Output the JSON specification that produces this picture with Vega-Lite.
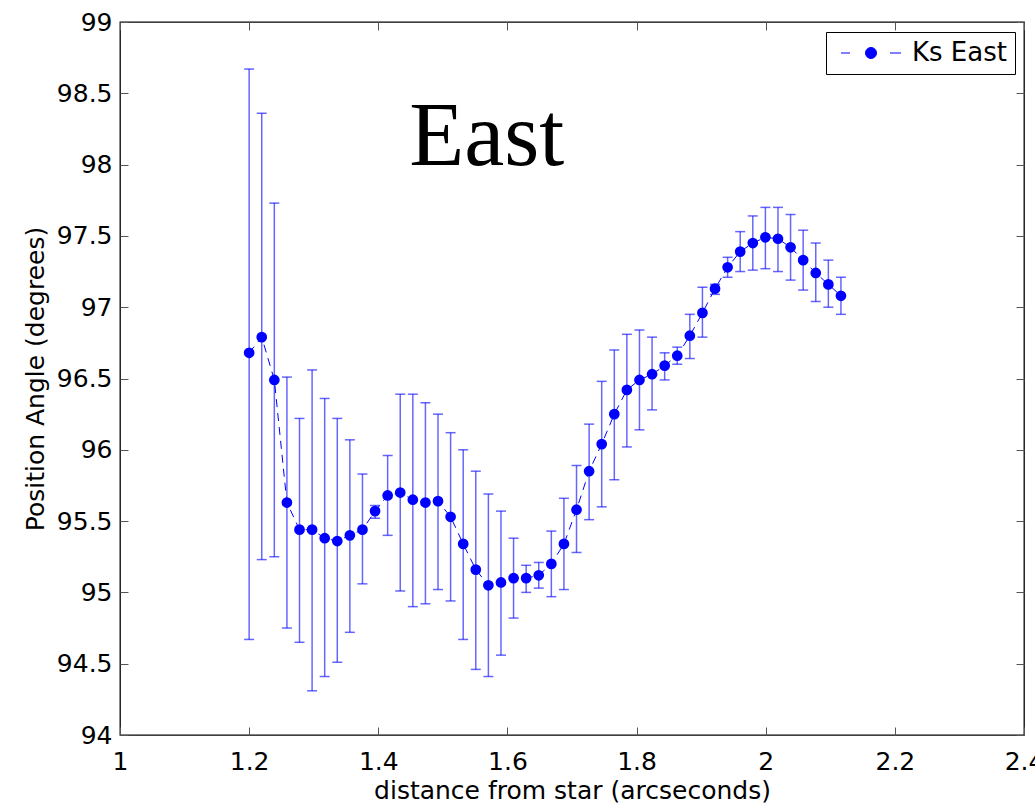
{
  "$schema": "https://vega.github.io/schema/vega-lite/v6.json",
  "width": 904,
  "height": 713,
  "autosize": "none",
  "padding": {"left": 120, "top": 22, "right": 11, "bottom": 70},
  "background": "white",
  "config": {
    "view": {"stroke": "#000", "strokeWidth": 1.3},
    "font": "DejaVu Sans"
  },
  "data": {
    "values": [
      {"d": 1.2000, "pa": 96.68, "lo": 94.67, "hi": 98.67},
      {"d": 1.2195, "pa": 96.79, "lo": 95.23, "hi": 98.36},
      {"d": 1.2390, "pa": 96.49, "lo": 95.25, "hi": 97.73},
      {"d": 1.2585, "pa": 95.63, "lo": 94.75, "hi": 96.51},
      {"d": 1.2780, "pa": 95.44, "lo": 94.65, "hi": 96.22},
      {"d": 1.2975, "pa": 95.44, "lo": 94.31, "hi": 96.56},
      {"d": 1.3170, "pa": 95.38, "lo": 94.41, "hi": 96.36},
      {"d": 1.3365, "pa": 95.36, "lo": 94.51, "hi": 96.22},
      {"d": 1.3560, "pa": 95.40, "lo": 94.72, "hi": 96.07},
      {"d": 1.3755, "pa": 95.44, "lo": 95.06, "hi": 95.83},
      {"d": 1.3950, "pa": 95.57, "lo": 95.52, "hi": 95.61},
      {"d": 1.4145, "pa": 95.68, "lo": 95.40, "hi": 95.96},
      {"d": 1.4340, "pa": 95.70, "lo": 95.01, "hi": 96.39},
      {"d": 1.4535, "pa": 95.65, "lo": 94.90, "hi": 96.39},
      {"d": 1.4730, "pa": 95.63, "lo": 94.92, "hi": 96.33},
      {"d": 1.4925, "pa": 95.64, "lo": 95.02, "hi": 96.25},
      {"d": 1.5120, "pa": 95.53, "lo": 94.94, "hi": 96.12},
      {"d": 1.5315, "pa": 95.34, "lo": 94.67, "hi": 96.00},
      {"d": 1.5510, "pa": 95.16, "lo": 94.46, "hi": 95.85},
      {"d": 1.5705, "pa": 95.05, "lo": 94.41, "hi": 95.69},
      {"d": 1.5900, "pa": 95.07, "lo": 94.56, "hi": 95.57},
      {"d": 1.6095, "pa": 95.10, "lo": 94.82, "hi": 95.38},
      {"d": 1.6290, "pa": 95.10, "lo": 95.00, "hi": 95.19},
      {"d": 1.6485, "pa": 95.12, "lo": 95.03, "hi": 95.21},
      {"d": 1.6680, "pa": 95.20, "lo": 94.97, "hi": 95.43},
      {"d": 1.6875, "pa": 95.34, "lo": 95.02, "hi": 95.66},
      {"d": 1.7070, "pa": 95.58, "lo": 95.28, "hi": 95.89},
      {"d": 1.7265, "pa": 95.85, "lo": 95.51, "hi": 96.18},
      {"d": 1.7460, "pa": 96.04, "lo": 95.60, "hi": 96.48},
      {"d": 1.7655, "pa": 96.25, "lo": 95.79, "hi": 96.70},
      {"d": 1.7850, "pa": 96.42, "lo": 96.02, "hi": 96.81},
      {"d": 1.8045, "pa": 96.49, "lo": 96.14, "hi": 96.84},
      {"d": 1.8240, "pa": 96.53, "lo": 96.28, "hi": 96.79},
      {"d": 1.8435, "pa": 96.59, "lo": 96.49, "hi": 96.68},
      {"d": 1.8630, "pa": 96.66, "lo": 96.60, "hi": 96.72},
      {"d": 1.8825, "pa": 96.80, "lo": 96.64, "hi": 96.95},
      {"d": 1.9020, "pa": 96.96, "lo": 96.79, "hi": 97.14},
      {"d": 1.9215, "pa": 97.13, "lo": 97.09, "hi": 97.16},
      {"d": 1.9410, "pa": 97.28, "lo": 97.21, "hi": 97.35},
      {"d": 1.9605, "pa": 97.39, "lo": 97.25, "hi": 97.53},
      {"d": 1.9800, "pa": 97.45, "lo": 97.26, "hi": 97.64},
      {"d": 1.9995, "pa": 97.49, "lo": 97.27, "hi": 97.70},
      {"d": 2.0190, "pa": 97.48, "lo": 97.25, "hi": 97.70},
      {"d": 2.0385, "pa": 97.42, "lo": 97.19, "hi": 97.65},
      {"d": 2.0580, "pa": 97.33, "lo": 97.12, "hi": 97.54},
      {"d": 2.0775, "pa": 97.24, "lo": 97.04, "hi": 97.45},
      {"d": 2.0970, "pa": 97.16, "lo": 97.00, "hi": 97.33},
      {"d": 2.1165, "pa": 97.08, "lo": 96.95, "hi": 97.21}
    ]
  },
  "resolve": {"axis": {"x": "independent", "y": "independent"}},
  "layer": [
    {
      "mark": {"type": "rule", "color": "#0000ff", "opacity": 0.6, "strokeWidth": 1.5},
      "encoding": {
        "x": {
          "field": "d", "type": "quantitative",
          "scale": {"domain": [1, 2.4], "nice": false, "zero": false},
          "axis": {
            "orient": "bottom",
            "values": [1, 1.2, 1.4, 1.6, 1.8, 2, 2.2, 2.4],
            "format": "~g",
            "domain": false, "grid": false,
            "tickSize": -8, "tickColor": "#555", "tickWidth": 1,
            "labelFlush": false, "labelOverlap": false,
            "labelFont": "DejaVu Sans", "labelFontSize": 25, "labelColor": "#000",
            "labelPadding": 22,
            "title": "distance from star (arcseconds)",
            "titleFont": "DejaVu Sans", "titleFontSize": 25, "titleFontWeight": "normal",
            "titleColor": "#000", "titlePadding": 4
          }
        },
        "y": {
          "field": "lo", "type": "quantitative",
          "scale": {"domain": [94, 99], "nice": false, "zero": false},
          "axis": {
            "orient": "left",
            "values": [94, 94.5, 95, 95.5, 96, 96.5, 97, 97.5, 98, 98.5, 99],
            "format": "~g",
            "domain": false, "grid": false,
            "tickSize": -8, "tickColor": "#555", "tickWidth": 1,
            "labelFlush": false, "labelOverlap": false,
            "labelFont": "DejaVu Sans", "labelFontSize": 25, "labelColor": "#000",
            "labelPadding": 16,
            "title": "Position Angle (degrees)",
            "titleFont": "DejaVu Sans", "titleFontSize": 25, "titleFontWeight": "normal",
            "titleColor": "#000", "titlePadding": 8
          }
        },
        "y2": {"field": "hi"}
      }
    },
    {
      "mark": {"type": "tick", "orient": "horizontal", "color": "#0000ff", "opacity": 0.6, "size": 10, "thickness": 1.5},
      "encoding": {
        "x": {"field": "d", "type": "quantitative", "axis": null},
        "y": {"field": "lo", "type": "quantitative", "axis": null}
      }
    },
    {
      "mark": {"type": "tick", "orient": "horizontal", "color": "#0000ff", "opacity": 0.6, "size": 10, "thickness": 1.5},
      "encoding": {
        "x": {"field": "d", "type": "quantitative", "axis": null},
        "y": {"field": "hi", "type": "quantitative", "axis": null}
      }
    },
    {
      "mark": {"type": "line", "color": "#0000ff", "strokeWidth": 1, "strokeDash": [8, 6]},
      "encoding": {
        "x": {"field": "d", "type": "quantitative", "axis": null},
        "y": {"field": "pa", "type": "quantitative", "axis": null}
      }
    },
    {
      "mark": {"type": "point", "filled": true, "opacity": 1, "size": 115, "shape": "circle"},
      "encoding": {
        "x": {"field": "d", "type": "quantitative", "axis": null},
        "y": {"field": "pa", "type": "quantitative", "axis": null},
        "color": {
          "datum": "Ks East",
          "scale": {"range": ["#0000ff"]},
          "legend": {
            "orient": "none", "legendX": 706, "legendY": 10,
            "title": null,
            "strokeColor": "#000", "fillColor": "#fff", "padding": 8, "cornerRadius": 0,
            "symbolType": "M-0.6,0L0.3,0M4.3,0L5.4,0M2.95,0A0.55,0.55,0,1,1,1.85,0A0.55,0.55,0,1,1,2.95,0Z",
            "symbolSize": 400,
            "symbolFillColor": "#0000ff", "symbolStrokeColor": "#0000ff", "symbolStrokeWidth": 1,
            "labelFont": "DejaVu Sans", "labelFontSize": 26, "labelColor": "#000",
            "labelOffset": 52,
            "encode": {"symbols": {"update": {"fill": {"value": "#0000ff"}, "stroke": {"value": "#0000ff"}, "strokeWidth": {"value": 1}, "opacity": {"value": 1}}}}
          }
        }
      }
    },
    {
      "data": {"values": [{"t": "East"}]},
      "mark": {"type": "text", "font": "Liberation Serif", "fontSize": 90, "align": "center", "baseline": "alphabetic", "color": "#000"},
      "encoding": {
        "text": {"field": "t"},
        "x": {
          "datum": 1.568, "type": "quantitative",
          "axis": {"orient": "top", "values": [1, 1.2, 1.4, 1.6, 1.8, 2, 2.2, 2.4], "labels": false, "domain": false, "grid": false, "title": null, "tickSize": -8, "tickColor": "#555", "tickWidth": 1}
        },
        "y": {
          "datum": 97.995, "type": "quantitative",
          "axis": {"orient": "right", "values": [94, 94.5, 95, 95.5, 96, 96.5, 97, 97.5, 98, 98.5, 99], "labels": false, "domain": false, "grid": false, "title": null, "tickSize": -8, "tickColor": "#555", "tickWidth": 1}
        }
      }
    }
  ]
}
